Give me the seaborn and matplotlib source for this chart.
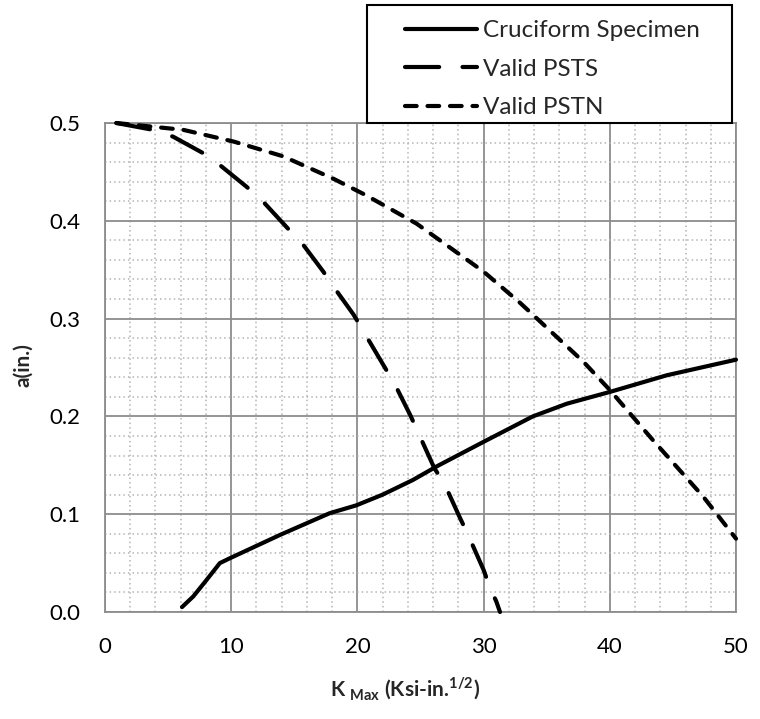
import matplotlib
matplotlib.use("Agg")
import matplotlib.pyplot as plt
from matplotlib.patches import Rectangle
from matplotlib.ticker import MultipleLocator, FormatStrFormatter
import seaborn as sns
import pandas as pd

# Stress intensity factor K_max (ksi-in^1/2) vs crack depth a (in.)
k_cruciform = [6.1, 7.0, 8.0, 9.1, 9.9, 13.9, 17.8, 19.9, 22.0, 24.4, 26.3, 30.0, 33.9, 36.6, 40.0, 44.5, 50.0]
a_cruciform = [0.005, 0.016, 0.032, 0.050, 0.055, 0.079, 0.101, 0.109, 0.120, 0.135, 0.149, 0.174, 0.200, 0.213, 0.225, 0.242, 0.258]

k_psts = [0.9, 3.8, 5.4, 7.8, 9.1, 11.2, 12.5, 14.5, 15.5, 17.3, 18.2, 19.7, 23.0, 24.2, 26.1, 26.9, 28.1, 28.8, 30.0, 30.5, 31.0, 31.3]
a_psts = [0.500, 0.493, 0.486, 0.469, 0.457, 0.435, 0.420, 0.392, 0.379, 0.348, 0.331, 0.304, 0.232, 0.201, 0.147, 0.131, 0.097, 0.078, 0.043, 0.025, 0.011, 0.0]

k_pstn = [0.9, 6.2, 10.2, 14.1, 18.1, 20.7, 24.7, 30.0, 32.9, 33.9, 37.9, 40.0, 43.4, 47.4, 50.0]
a_pstn = [0.500, 0.493, 0.481, 0.466, 0.443, 0.426, 0.397, 0.348, 0.316, 0.304, 0.256, 0.227, 0.176, 0.118, 0.075]

series_labels = ["Cruciform Specimen", "Valid PSTS", "Valid PSTN"]
x_ticks = [0, 10, 20, 30, 40, 50]
y_ticks = [0.0, 0.1, 0.2, 0.3, 0.4, 0.5]

sns.set_theme(style="white")
plt.rcParams["font.family"] = ["Lato", "DejaVu Sans"]
plt.rcParams["mathtext.fontset"] = "custom"
plt.rcParams["mathtext.rm"] = "Lato"
plt.rcParams["mathtext.bf"] = "Lato:bold"

W, H = 760, 719
fig = plt.figure(figsize=(W / 100, H / 100), dpi=100)
ax = fig.add_axes([105 / W, 1 - 612 / H, (736 - 105) / W, (612 - 123) / H])

frames = [
    pd.DataFrame({"K": k_cruciform, "a": a_cruciform}),
    pd.DataFrame({"K": k_psts, "a": a_psts}),
    pd.DataFrame({"K": k_pstn, "a": a_pstn}),
]
styles = ["-", (0, (8.2, 5.6)), (0, (2.8, 2.6))]

lw = 3.0
for df, ls, lab in zip(frames, styles, series_labels):
    sns.lineplot(data=df, x="K", y="a", ax=ax, color="black", linewidth=lw,
                 linestyle=ls, sort=False, label=lab, zorder=5,
                 solid_capstyle="round", dash_capstyle="round", clip_on=False)

ax.set_xlim(0, 50)
ax.set_ylim(0, 0.5)
ax.xaxis.set_minor_locator(MultipleLocator(2))
ax.yaxis.set_minor_locator(MultipleLocator(0.02))
ax.set_xticks(x_ticks)
ax.set_yticks(y_ticks)
ax.yaxis.set_major_formatter(FormatStrFormatter("%.1f"))

ax.grid(which="major", color="#8c8c8c", linewidth=1.3, linestyle="-")
ax.grid(which="minor", color="#b4b4b4", linewidth=1.1, linestyle=(0, (1, 2)))
ax.set_axisbelow(True)
for sp in ax.spines.values():
    sp.set_color("#8c8c8c")
    sp.set_linewidth(1.3)
ax.tick_params(which="both", length=0)
ax.tick_params(axis="both", labelsize=16, colors="black", pad=18)

ax.set_xlabel("")
ax.set_ylabel("")
fig.text(23 / W, 1 - 365 / H, "a(in.)", rotation=90, ha="center", va="center",
         fontsize=15, fontweight="bold")
fig.text(405 / W, 1 - 689 / H, r"K $_{\mathbf{Max}}$ (Ksi-in.$^{\mathbf{1/2}}$)",
         ha="center", va="center", fontsize=15, fontweight="bold")

# Legend in a framed box sitting above the plot area
ax.get_legend().remove()
box = Rectangle((367 / W, 1 - 123 / H), 365 / W, 118 / H, transform=fig.transFigure,
                facecolor="white", edgecolor="black", linewidth=1.5, zorder=10)
fig.patches.append(box)
handles, labels = ax.get_legend_handles_labels()
leg = fig.legend(handles, labels, loc="upper left",
                 bbox_to_anchor=(405 / W, 1 - 20 / H), bbox_transform=fig.transFigure,
                 frameon=False, fontsize=17.5, handlelength=2.95, handletextpad=0.25,
                 labelspacing=0.72, borderpad=0, borderaxespad=0)
leg.set_zorder(11)

fig.savefig("out.png", dpi=100)
